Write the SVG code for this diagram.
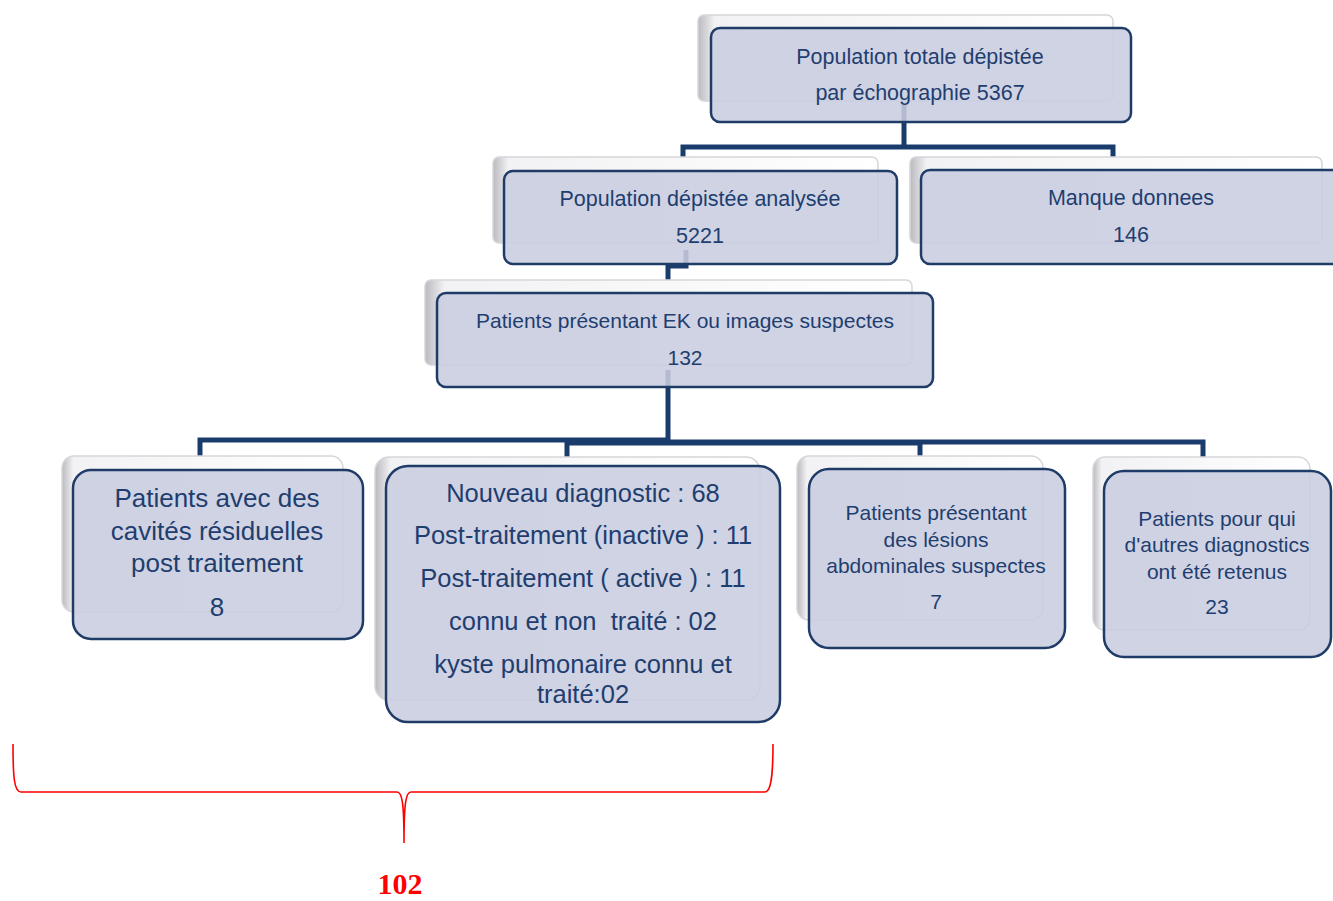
<svg xmlns="http://www.w3.org/2000/svg" width="1333" height="901" viewBox="0 0 1333 901">
<defs>
<linearGradient id="backG" x1="0" y1="0" x2="1" y2="0">
<stop offset="0" stop-color="#b9b9bf"/>
<stop offset="0.04" stop-color="#f2f2f4"/>
<stop offset="1" stop-color="#ffffff"/>
</linearGradient>
<style>
.back{fill:url(#backG);stroke:#d6d6da;stroke-width:1.5}
.box{fill:#c9cddf;fill-opacity:0.88;stroke:#1f3c68;stroke-width:2.5}
.conn{fill:none;stroke:#1a3c6c;stroke-width:5;stroke-linejoin:miter}
.t{font-family:"Liberation Sans",Arial,sans-serif;fill:#1f3e70;text-anchor:middle}
.brace{fill:none;stroke:#ff0000;stroke-width:1.6}
</style>
</defs>
<rect width="1333" height="901" fill="#ffffff"/>
<g id="connectors">
<path class="conn" d="M904,105 V147 M683,175 V147 H1113 V175"/>
<path class="conn" d="M686,250 V266 H668 V295"/>
<path class="conn" d="M200,474 V440 H668 M668,370 V442 H1203 V474 M567,470 V443 H920 V472"/>
</g>
<g id="n1">
<rect class="back" x="698" y="15" width="415" height="86" rx="6"/>
<rect class="box" x="711" y="28" width="420" height="94" rx="9"/>
<text class="t" font-size="21.5"><tspan x="920" y="64">Population totale dépistée</tspan><tspan x="920" y="100">par échographie 5367</tspan></text>
</g>
<g id="n2">
<rect class="back" x="493" y="157" width="385" height="86" rx="6"/>
<rect class="box" x="504" y="171" width="393" height="93" rx="9"/>
<text class="t" font-size="21.5"><tspan x="700" y="206">Population dépistée analysée</tspan><tspan x="700" y="243">5221</tspan></text>
</g>
<g id="n3">
<rect class="back" x="910" y="157" width="412" height="86" rx="6"/>
<rect class="box" x="921" y="170" width="420" height="94" rx="9"/>
<text class="t" font-size="21.5"><tspan x="1131" y="205">Manque donnees</tspan><tspan x="1131" y="242">146</tspan></text>
</g>
<g id="n4">
<rect class="back" x="425" y="280" width="487" height="85" rx="6"/>
<rect class="box" x="437" y="293" width="496" height="94" rx="9"/>
<text class="t" font-size="21"><tspan x="685" y="328">Patients présentant EK ou images suspectes</tspan><tspan x="685" y="365">132</tspan></text>
</g>
<g id="n5">
<rect class="back" x="62" y="456" width="281" height="156" rx="12"/>
<rect class="box" x="73" y="470" width="290" height="169" rx="18"/>
<text class="t" font-size="26"><tspan x="217" y="507">Patients avec des</tspan><tspan x="217" y="540">cavités résiduelles</tspan><tspan x="217" y="572">post traitement</tspan><tspan x="217" y="616">8</tspan></text>
</g>
<g id="n6">
<rect class="back" x="375" y="457" width="385" height="243" rx="14"/>
<rect class="box" x="386" y="466" width="394" height="256" rx="22"/>
<text class="t" font-size="25.5" style="white-space:pre"><tspan x="583" y="502">Nouveau diagnostic : 68</tspan><tspan x="583" y="544">Post-traitement (inactive ) : 11</tspan><tspan x="583" y="587">Post-traitement ( active ) : 11</tspan><tspan x="583" y="630">connu et non  traité : 02</tspan><tspan x="583" y="673">kyste pulmonaire connu et</tspan><tspan x="583" y="703">traité:02</tspan></text>
</g>
<g id="n7">
<rect class="back" x="797" y="456" width="246" height="164" rx="12"/>
<rect class="box" x="809" y="469" width="256" height="179" rx="20"/>
<text class="t" font-size="21"><tspan x="936" y="520">Patients présentant</tspan><tspan x="936" y="547">des lésions</tspan><tspan x="936" y="573">abdominales suspectes</tspan><tspan x="936" y="609">7</tspan></text>
</g>
<g id="n8">
<rect class="back" x="1093" y="457" width="217" height="173" rx="12"/>
<rect class="box" x="1104" y="471" width="227" height="186" rx="20"/>
<text class="t" font-size="21"><tspan x="1217" y="526">Patients pour qui</tspan><tspan x="1217" y="552">d'autres diagnostics</tspan><tspan x="1217" y="579">ont été retenus</tspan><tspan x="1217" y="614">23</tspan></text>
</g>
<g id="brace">
<path class="brace" d="M13,744 C13,776 14,792 21,792 H397 C402,792 404,802 404,843 C404,802 406,792 411,792 H765 C771,792 773,776 773,744"/>
<text x="400" y="894" font-family="'Liberation Serif','Times New Roman',serif" font-weight="bold" font-size="30" fill="#ff0000" text-anchor="middle">102</text>
</g>
</svg>
